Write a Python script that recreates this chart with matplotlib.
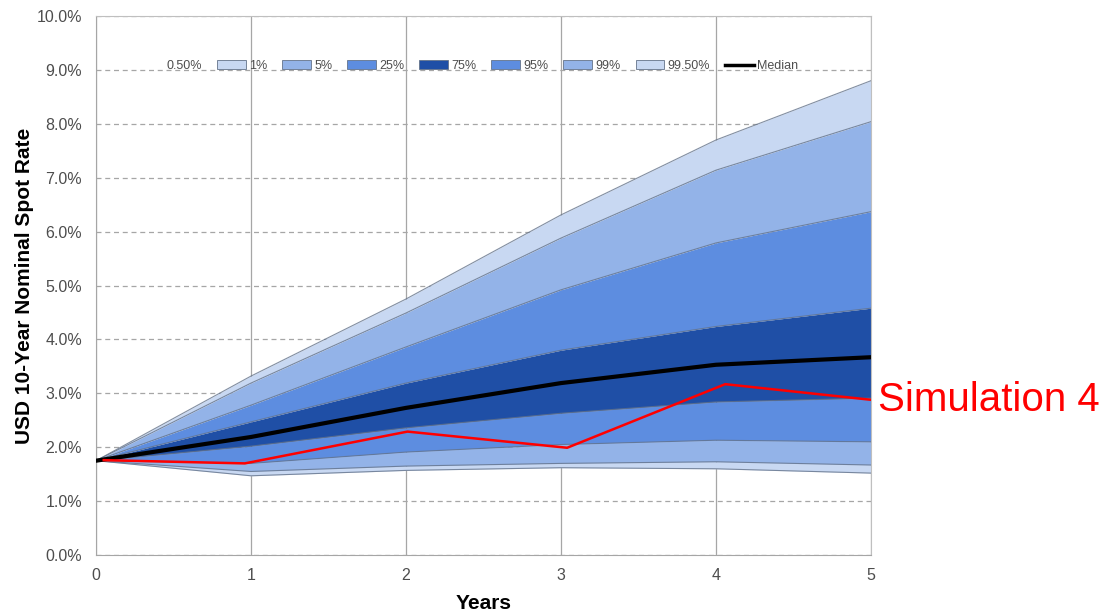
import matplotlib

matplotlib.use("Agg")
import matplotlib.pyplot as plt
from matplotlib.patches import Patch
from matplotlib.lines import Line2D
from matplotlib.ticker import FuncFormatter

plt.rcParams["font.family"] = ["Liberation Sans", "DejaVu Sans"]

# ---- data (percent) ----
years = [0, 1, 2, 3, 4, 5]
p005 = [1.75, 1.47, 1.57, 1.62, 1.60, 1.52]
p01 = [1.75, 1.55, 1.65, 1.70, 1.73, 1.67]
p05 = [1.75, 1.70, 1.91, 2.05, 2.13, 2.10]
p25 = [1.75, 2.02, 2.36, 2.63, 2.84, 2.91]
median = [1.75, 2.19, 2.73, 3.19, 3.53, 3.67]
p75 = [1.75, 2.47, 3.19, 3.80, 4.24, 4.58]
p95 = [1.75, 2.78, 3.86, 4.92, 5.79, 6.37]
p99 = [1.75, 3.19, 4.49, 5.88, 7.14, 8.04]
p995 = [1.75, 3.32, 4.75, 6.31, 7.70, 8.80]

sim_x = [0.05, 0.96, 2.01, 3.04, 4.06, 5.0]
sim_y = [1.76, 1.70, 2.29, 1.99, 3.17, 2.88]

legend_labels = ["0.50%", "1%", "5%", "25%", "75%", "95%", "99%", "99.50%", "Median"]

C_LIGHT = "#c8d8f2"
C_MID = "#93b3e8"
C_BLUE = "#5d8de0"
C_DARK = "#1f4fa6"
EDGE = "#64738a"
TXT = "#4d4d4d"

fig = plt.figure(figsize=(11.15, 6.12), dpi=100)
ax = fig.add_axes([0.0861, 0.0931, 0.695, 0.8807])

bands = [
    (p005, p01, C_LIGHT),
    (p01, p05, C_MID),
    (p05, p25, C_BLUE),
    (p25, p75, C_DARK),
    (p75, p95, C_BLUE),
    (p95, p99, C_MID),
    (p99, p995, C_LIGHT),
]
for lo, hi, c in bands:
    ax.fill_between(years, lo, hi, color=c, lw=0, zorder=2)
for s in [p005, p01, p05, p25, p75, p95, p99, p995]:
    ax.plot(years, s, color=EDGE, lw=0.8, alpha=0.8, zorder=3)

ax.plot(years, median, color="black", lw=3, zorder=4)
ax.plot(sim_x, sim_y, color="red", lw=1.8, zorder=5)

ax.set_xlim(0, 5)
ax.set_ylim(0, 10)
ax.set_xticks(years)
ax.set_yticks(range(0, 11))
ax.yaxis.set_major_formatter(FuncFormatter(lambda v, _: f"{v:.1f}%"))
ax.tick_params(length=0, labelsize=11.5, colors=TXT)
ax.tick_params(axis="y", pad=10)
ax.tick_params(axis="x", pad=9)

ax.grid(axis="y", ls=(0, (4, 3)), color="#a6a6a6", lw=0.9)
ax.grid(axis="x", ls="-", color="#a6a6a6", lw=0.9)
ax.set_axisbelow(True)
for sp in ax.spines.values():
    sp.set_color("#bfbfbf")
ax.spines["left"].set_color("#a6a6a6")
ax.spines["bottom"].set_color("#a6a6a6")

ax.set_ylabel("USD 10-Year Nominal Spot Rate", fontsize=15, fontweight="bold", labelpad=2)
ax.set_xlabel("Years", fontsize=15, fontweight="bold", labelpad=8)

handles = [Patch(facecolor="none", edgecolor="none")]
for c in [C_LIGHT, C_MID, C_BLUE, C_DARK, C_BLUE, C_MID, C_LIGHT]:
    handles.append(Patch(facecolor=c, edgecolor=EDGE, lw=0.6))
handles.append(Line2D([0], [0], color="black", lw=2.5))
leg = ax.legend(handles, legend_labels, ncol=9, loc="center", bbox_to_anchor=(0.478, 0.907),
                frameon=False, fontsize=9, handlelength=2.3, handleheight=0.75,
                handletextpad=0.25, columnspacing=1.2, labelcolor=TXT)

fig.text(878 / 1115, 1 - 400 / 612, "Simulation 4", color="red", fontsize=29,
         ha="left", va="center")

fig.savefig("out.png", dpi=100)
